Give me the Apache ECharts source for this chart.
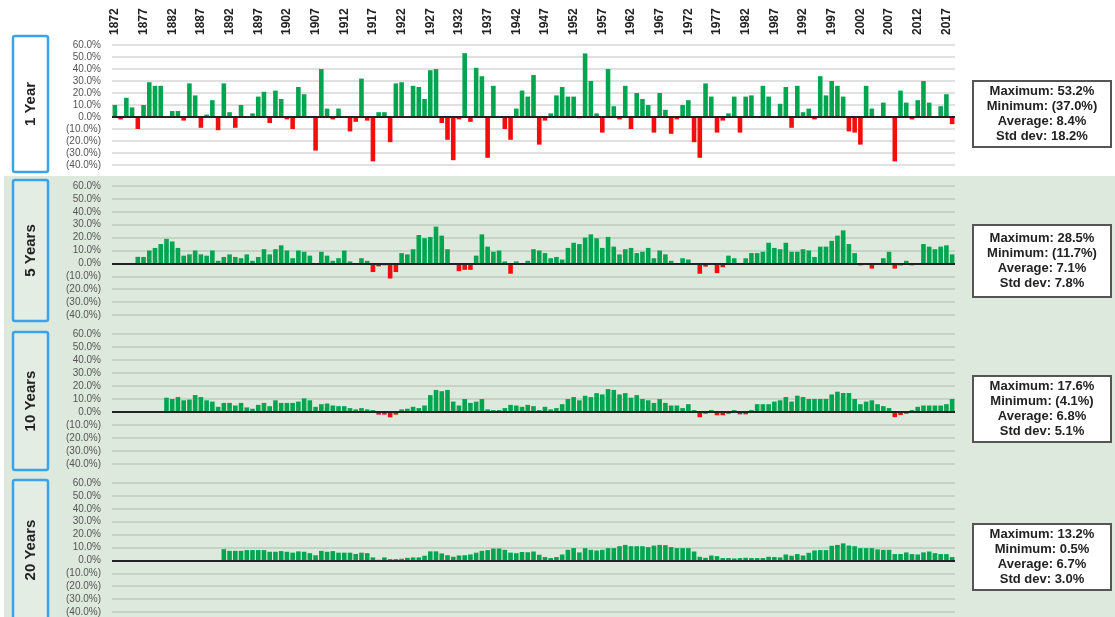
<!DOCTYPE html>
<html>
<head>
<meta charset="utf-8">
<script src="https://cdn.jsdelivr.net/npm/echarts@6/dist/echarts.min.js"></script>
<style>
  html, body { margin: 0; padding: 0; background: #fff; }
  #main { width: 1115px; height: 617px; }
</style>
</head>
<body>
<div id="main"></div>
<script>
// 年份 1872 - 2018
var firstYear = 1872
var lastYear = 2018
var years = []
for (var y = firstYear; y <= lastYear; y++) years.push(String(y))

// 1 年收益 (%)
var oneYear = [10, -2, 16, 8, -10, 10, 29, 26, 26, 0.3,
  5, 5, -3, 28, 18, -9, 2, 14, -11, 28,
  4, -9, 10, 0.3, 3, 17, 21, -5, 22, 15,
  -2, -10, 25, 19, 0.3, -28, 40, 7, -2, 7,
  0.3, -12, -4, 32, -3, -37, 4, 4, -21, 28,
  29, 0.3, 26, 25, 15, 39, 40, -5, -19, -36,
  -2, 53.2, -4, 41, 34, -34, 26, 0.3, -10, -19,
  7, 22, 17, 35, -23, -3, 3, 18, 25, 17,
  17, -1, 53, 30, 3, -13, 40, 9, -2, 26,
  -10, 20, 15, 10, -13, 20, 6, -14, -2, 10,
  14, -21, -34, 28, 17, -13, -3, 3, 17, -13,
  17, 18, 0.3, 26, 17, 0.3, 11, 25, -9, 26,
  4, 7, -2, 34, 18, 30, 26, 17, -12, -13,
  -23, 26, 7, 0.3, 12, 0.3, -37, 22, 12, -2,
  14, 30, 12, -0.5, 9, 19, -6]

// 5 年年化收益 (%)
var fiveYear = [null, null, null, null,
  5.1, 5, 10, 12, 15, 19, 17, 12, 6, 7,
  10, 7, 6, 10, 2, 5, 7, 5, 4, 7,
  2, 5, 11, 7, 11, 14, 10, 4, 10, 9,
  6, 0.3, 9, 6, 2, 4, 10, 1.5, 0.3, 4,
  2, -6.7, -2.3, -1.5, -11.7, -6.7, 8, 7, 11, 22,
  19.5, 20.5, 28.5, 21.5, 11, -0.5, -6, -5, -5, 6,
  22.5, 13, 9, 10, 1.5, -8, 1.5, 0.3, 2, 11,
  10, 8, 4, 5, 3, 12, 16, 15, 20, 22.5,
  19.5, 12, 20.5, 13, 7, 11, 12, 8, 9, 12,
  4, 10, 7, 2, 0.3, 4, 3, -1, -8, -2.5,
  -1, -7.5, -3, 6, 4, 0.3, 4, 8, 8, 9,
  16, 12, 11, 16, 9, 9, 11, 10, 5, 13,
  13, 17.5, 21.5, 25.6, 15, 8, -1.5, -1, -4, 0.3,
  4, 9, -4, -1.5, 2, -1.5, 0.3, 15, 13, 11,
  13, 14, 7]

// 10 年年化收益 (%)
var tenYear = [null, null, null, null, null, null, null, null, null,
  11, 10, 11.5, 9, 9.5, 13, 11.5, 9, 8, 4,
  7, 7, 5, 7, 3.5, 2.5, 5.5, 7, 4.5, 9,
  7, 7, 7, 8, 10.5, 9, 4, 6, 6.5, 5,
  4.5, 4.5, 3, 2, 3, 2, 1.5, -2, -2, -4.1,
  -2, 2, 2.5, 4, 3, 5, 13, 17, 16, 17,
  8, 5, 10, 7, 8, 10, 2, 1.5, 1.5, 3,
  5.5, 5, 4, 5.5, 4.5, 1.5, 4, 2, 3, 6,
  10, 11.5, 9, 12.5, 11.5, 14.5, 13.5, 17.6, 17, 13.5,
  14.5, 11, 13, 10, 9, 7, 10, 7, 5, 5,
  3, 6, 1.5, -4, -1.3, 1.5, -2.5, -2.5, -1.3, 1.5,
  -1.8, -1.8, 1.5, 6, 6, 6, 8, 9, 11.5, 8,
  12.5, 11.5, 10, 10, 10, 10, 13.5, 15.6, 14.6, 14.6,
  10, 6, 8, 9, 6, 4.5, 3, -4, -2.3, -1.3,
  1.5, 4, 5, 5, 5, 5, 6, 10]

// 20 年年化收益 (%)
var twentyYear = [null, null, null, null, null, null, null, null, null, null,
  null, null, null, null, null, null, null, null, null,
  8.7, 7.4, 7.4, 7.4, 8, 8, 8, 8, 6.7, 6.7,
  7.2, 6.7, 6, 7, 6.7, 5.6, 4, 7.4, 6.7, 7.2,
  6, 6, 6, 5, 6, 5.6, 2.3, 0.5, 2.3, 1,
  1, 1.3, 2, 2.3, 2.3, 3.6, 7, 7, 5.4, 4,
  2.8, 3.8, 4, 4.6, 6, 7.4, 8, 9.2, 9.2, 8.2,
  6, 5.6, 6.5, 6.3, 6.9, 4.4, 2.6, 1.8, 2.6, 4.6,
  8.2, 9.5, 6.2, 9.5, 8.2, 7.7, 8.2, 9.5, 9.5, 11,
  12, 11, 11, 11, 10.3, 11.5, 12, 11.8, 10.3, 9.5,
  9.5, 9.5, 6.9, 2.8, 2, 3.8, 3.3, 1.8, 1.8, 1.5,
  1.8, 2, 1.8, 1.8, 1.8, 2.8, 2.6, 2.3, 4.6, 3.6,
  4.9, 3.8, 5.9, 7.7, 8, 8, 11.3, 12, 13.2, 11.5,
  11, 9.5, 9.5, 9.5, 8.5, 8.2, 8.2, 4.9, 4.9, 6.2,
  4.9, 4.6, 6.2, 6.9, 5.6, 4.9, 4.9, 2.6]

var panelNames = ['1 Year', '5 Years', '10 Years', '20 Years']
var statMax = ['53.2%', '28.5%', '17.6%', '13.2%']
var statMin = ['(37.0%)', '(11.7%)', '(4.1%)', '0.5%']
var statAvg = ['8.4%', '7.1%', '6.8%', '6.7%']
var statStd = ['18.2%', '7.8%', '5.1%', '3.0%']
var allSeries = [oneYear, fiveYear, tenYear, twentyYear]

// 布局
var gridTop = [45, 186, 334, 483]
var gridHeight = [120, 129, 130, 131]
var boxTop = [36, 180, 332, 480]
var boxHeight = [136, 141, 138, 140]
var statTop = [81, 225, 376, 524]
var statHeight = [66, 72, 66, 66]

var GREEN = '#00a54f'
var RED = '#f40d0d'
var BG = '#dde9dc'

function pctLabel(v) {
    if (v < 0) return '(' + Math.abs(v).toFixed(1) + '%)'
    return v.toFixed(1) + '%'
}

var grids = [], xAxes = [], yAxes = [], series = [], graphics = []

// 绿色背景
graphics.push({
    type: 'rect', z: -10, silent: true,
    shape: { x: 4, y: 176, width: 1111, height: 441 },
    style: { fill: BG }
})

for (var i = 0; i < 4; i++) {
    grids.push({ left: 112, right: 160, top: gridTop[i], height: gridHeight[i] })
    xAxes.push({
        type: 'category', gridIndex: i, data: years,
        position: 'top',
        axisLine: { show: false }, axisTick: { show: false },
        axisLabel: {
            show: i === 0, interval: 4, rotate: 90, margin: 10,
            fontSize: 12, fontWeight: 'bold', color: '#222',
            fontFamily: 'Liberation Sans Narrow, Arial Narrow, Liberation Sans, Arial'
        },
        splitLine: { show: false }
    })
    yAxes.push({
        type: 'value', gridIndex: i, min: -40, max: 60, interval: 10,
        axisLine: { show: false }, axisTick: { show: false },
        axisLabel: { formatter: pctLabel, fontSize: 10, color: '#555', margin: 11, fontFamily: 'Liberation Sans, Arial' },
        splitLine: { lineStyle: { color: i === 0 ? '#d6d6d6' : '#bccbbc', width: 1.5 } }
    })
    series.push({
        type: 'bar', xAxisIndex: i, yAxisIndex: i,
        data: allSeries[i],
        barCategoryGap: '20%',
        itemStyle: {
            color: function (p) { return p.value < 0 ? RED : GREEN }
        },
        markLine: {
            silent: true, symbol: 'none', label: { show: false },
            lineStyle: { color: '#222', width: 2, type: 'solid' },
            data: [{ yAxis: 0 }]
        }
    })

    // 左侧标签框
    graphics.push({
        type: 'rect', silent: true,
        shape: { x: 13, y: boxTop[i], width: 35, height: boxHeight[i], r: 2 },
        style: { fill: i === 0 ? '#fff' : '#e3ede3', stroke: '#3ba3ea', lineWidth: 2.5 }
    })
    graphics.push({
        type: 'text', silent: true,
        x: 31, y: boxTop[i] + boxHeight[i] / 2, rotation: Math.PI / 2,
        style: {
            text: panelNames[i], align: 'center', verticalAlign: 'middle',
            fontSize: 15, fontWeight: 'bold', fill: '#222', fontFamily: 'Liberation Sans, Arial'
        }
    })

    // 右侧统计框
    graphics.push({
        type: 'rect', silent: true,
        shape: { x: 973, y: statTop[i], width: 138, height: statHeight[i] },
        style: { fill: '#fff', stroke: '#555', lineWidth: 2 }
    })
    graphics.push({
        type: 'text', silent: true,
        x: 1042, y: statTop[i] + statHeight[i] / 2,
        style: {
            text: 'Maximum: ' + statMax[i] + '\nMinimum: ' + statMin[i] +
                '\nAverage: ' + statAvg[i] + '\nStd dev: ' + statStd[i],
            align: 'center', verticalAlign: 'middle', lineHeight: 15,
            fontSize: 13, fontWeight: 'bold', fill: '#222', fontFamily: 'Liberation Sans, Arial'
        }
    })
}

var myChart = echarts.init(document.getElementById('main'))
myChart.setOption({
    animation: false,
    grid: grids,
    xAxis: xAxes,
    yAxis: yAxes,
    series: series,
    graphic: graphics
})
window.addEventListener('resize', function () {
    myChart.resize()
})
</script>
</body>
</html>
